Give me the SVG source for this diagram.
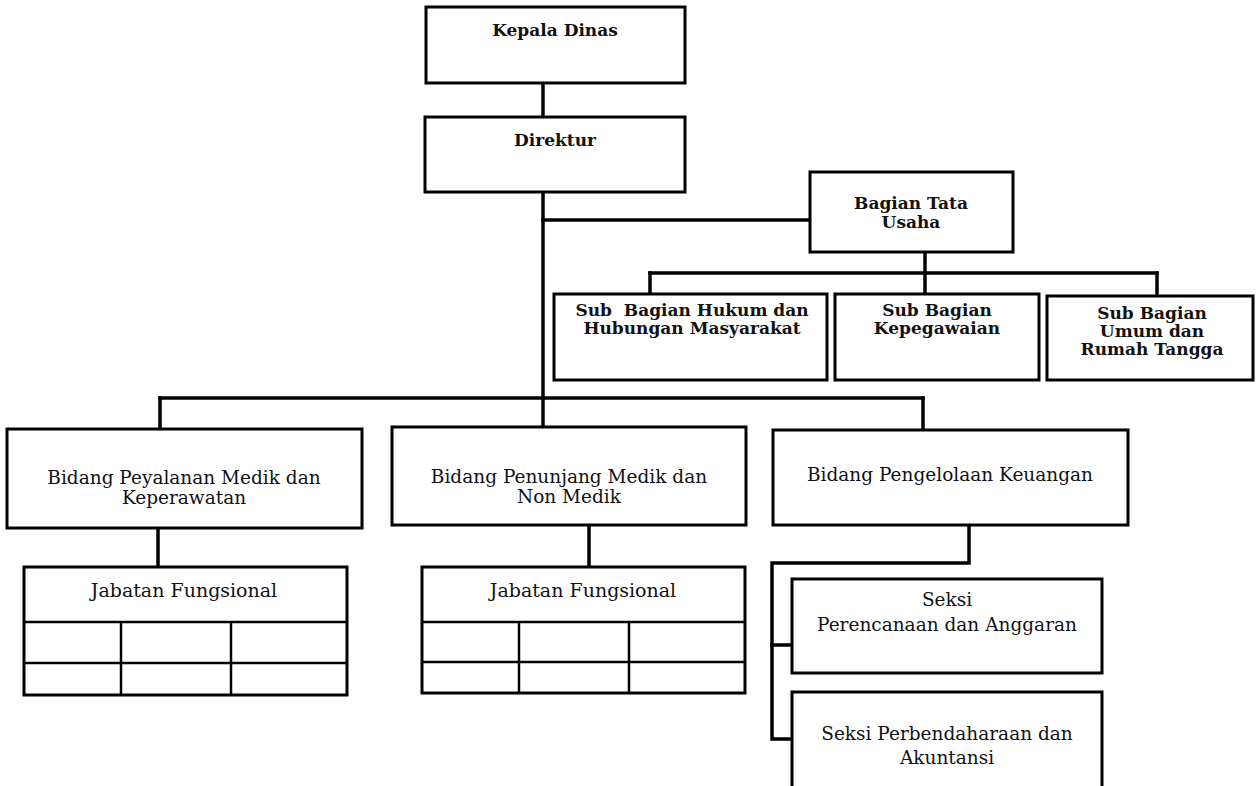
<svg xmlns="http://www.w3.org/2000/svg" width="1258" height="786" viewBox="0 0 1258 786">
<style>
.box{fill:#fff;stroke:#000;stroke-width:3}
.cell{fill:none;stroke:#000;stroke-width:2.5}
.con{fill:none;stroke:#000;stroke-width:3.5;stroke-linecap:square}
.t{font-family:"DejaVu Serif","Liberation Serif",serif;font-size:18.5px;fill:#111;text-anchor:middle}
.tb{font-family:"DejaVu Serif","Liberation Serif",serif;font-size:17px;font-weight:bold;fill:#111;text-anchor:middle}
.tj{font-size:19px}
</style>
<rect width="1258" height="786" fill="#fff"/>
<g id="connectors">
<path class="con" d="M543,83V117"/>
<path class="con" d="M543,192V427"/>
<path class="con" d="M543,220H810"/>
<path class="con" d="M925,252V294"/>
<path class="con" d="M650,273H1157"/>
<path class="con" d="M650,273V294"/>
<path class="con" d="M1157,273V296"/>
<path class="con" d="M160,398H923"/>
<path class="con" d="M160,398V429"/>
<path class="con" d="M923,398V430"/>
<path class="con" d="M158,528V567"/>
<path class="con" d="M589,525V567"/>
<path class="con" d="M969,525V563H772V739H792"/>
<path class="con" d="M772,645H792"/>
</g>
<g id="kepala-dinas">
<rect class="box" x="426" y="7" width="259" height="76"/>
<text class="tb" x="555" y="36">Kepala Dinas</text>
</g>
<g id="direktur">
<rect class="box" x="425" y="117" width="260" height="75"/>
<text class="tb" x="555" y="146">Direktur</text>
</g>
<g id="bagian-tata-usaha">
<rect class="box" x="810" y="172" width="203" height="80"/>
<text class="tb" x="911" y="209">Bagian Tata</text>
<text class="tb" x="911" y="228">Usaha</text>
</g>
<g id="sub-hukum">
<rect class="box" x="554" y="294" width="273" height="86"/>
<text class="tb" x="692" y="316" xml:space="preserve">Sub  Bagian Hukum dan</text>
<text class="tb" x="692" y="334">Hubungan Masyarakat</text>
</g>
<g id="sub-kepegawaian">
<rect class="box" x="835" y="294" width="204" height="86"/>
<text class="tb" x="937" y="316">Sub Bagian</text>
<text class="tb" x="937" y="334">Kepegawaian</text>
</g>
<g id="sub-umum">
<rect class="box" x="1047" y="296" width="206" height="84"/>
<text class="tb" x="1152" y="319">Sub Bagian</text>
<text class="tb" x="1152" y="337">Umum dan</text>
<text class="tb" x="1152" y="355">Rumah Tangga</text>
</g>
<g id="bidang-pelayanan">
<rect class="box" x="7" y="429" width="355" height="99"/>
<text class="t" x="184" y="484">Bidang Peyalanan Medik dan</text>
<text class="t" x="184" y="504">Keperawatan</text>
</g>
<g id="bidang-penunjang">
<rect class="box" x="392" y="427" width="354" height="98"/>
<text class="t" x="569" y="483">Bidang Penunjang Medik dan</text>
<text class="t" x="569" y="503">Non Medik</text>
</g>
<g id="bidang-keuangan">
<rect class="box" x="773" y="430" width="355" height="95"/>
<text class="t" x="950" y="481">Bidang Pengelolaan Keuangan</text>
</g>
<g id="jabatan-fungsional-1">
<rect class="box" x="24" y="567" width="323" height="128"/>
<path class="cell" d="M24,622H347M24,663H347M121,622V695M231,622V695"/>
<text class="t tj" x="184" y="597">Jabatan Fungsional</text>
</g>
<g id="jabatan-fungsional-2">
<rect class="box" x="422" y="567" width="323" height="126"/>
<path class="cell" d="M422,622H745M422,662H745M519,622V693M629,622V693"/>
<text class="t tj" x="583" y="597">Jabatan Fungsional</text>
</g>
<g id="seksi-perencanaan">
<rect class="box" x="792" y="579" width="310" height="94"/>
<text class="t" x="947" y="606">Seksi</text>
<text class="t" x="947" y="631">Perencanaan dan Anggaran</text>
</g>
<g id="seksi-perbendaharaan">
<rect class="box" x="792" y="692" width="310" height="110"/>
<text class="t" x="947" y="740">Seksi Perbendaharaan dan</text>
<text class="t" x="947" y="764">Akuntansi</text>
</g>
</svg>
